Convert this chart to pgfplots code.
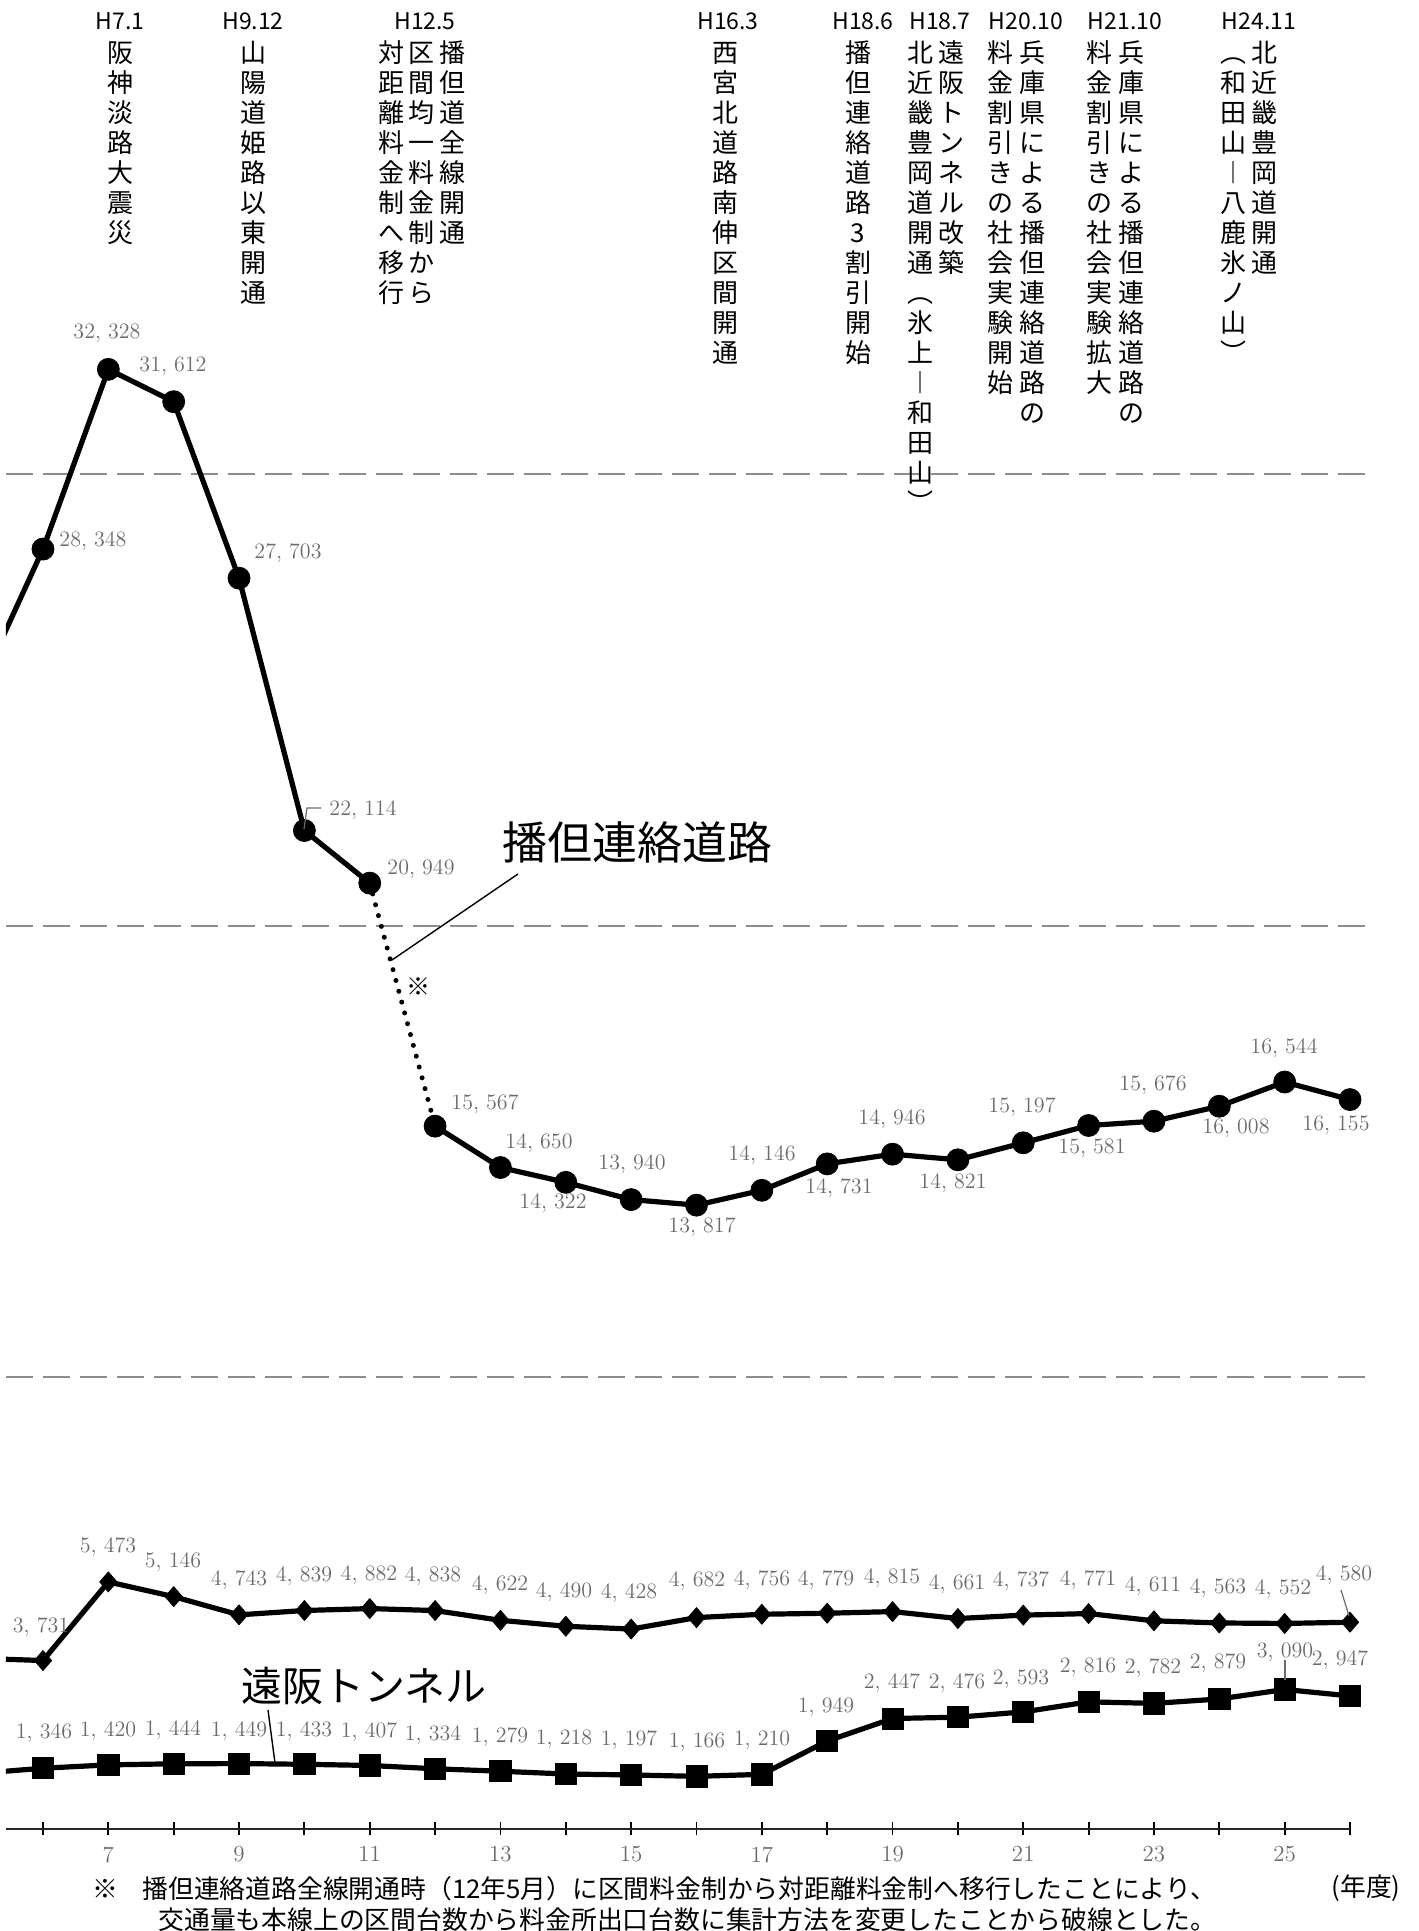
\documentclass[border=0pt]{standalone}
\usepackage{pgfplots}
\pgfplotsset{compat=1.18}
\usepackage{fontspec}
\newfontfamily\jp{Noto Sans CJK JP}
\definecolor{lab}{gray}{0.42}
\definecolor{gridc}{gray}{0.55}

% one vertical column of characters, row pitch 30px
\tikzset{vch/.style={font=\jp\fontsize{13}{15}\selectfont, inner sep=0pt,
  text height=11.4pt, text depth=1.6pt, anchor=center}}
\newcommand\vcol[2]{\foreach \ch [count=\i from 0] in {#2}{\node[vch] at (#1,{53+30*\i}) {\ch};}}
\newcommand\hlab[2]{\node[font=\jp\fontsize{11.5}{12}\selectfont, inner sep=0pt] at (#1,21) {#2};}

\begin{document}
\begin{tikzpicture}
\useasboundingbox (0,0) rectangle (709pt,965.5pt);
\begin{axis}[
  at={(3pt,51pt)}, anchor=south west,
  scale only axis, width=672pt, height=914.5pt,
  xmin=5.434, xmax=26, ymin=0, ymax=40509,
  axis x line=bottom, axis y line=none,
  x axis line style={-, line width=1.4pt, black!85},
  xtick={6,...,26},
  xticklabels={{},7,{},9,{},11,{},13,{},15,{},17,{},19,{},21,{},23,{},25,{}},
  tick align=center, major tick length=6.5pt,
  every tick/.style={black, line width=0.9pt},
  xticklabel style={text=lab, font=\fontsize{11.5}{12}\selectfont, yshift=-2pt},
  /pgf/number format/assume math mode=true,
  ytick=\empty,
  clip mode=individual,
]
% dashed reference lines
\foreach \g in {10000,20000,30000}{
  \edef\tmp{\noexpand\draw[gridc, line width=1pt, dash pattern=on 13.5pt off 5pt]
    (axis cs:5.434,\g) -- (axis cs:26.38,\g);}\tmp}

% 播但連絡道路 (dotted where counting method changed)
\addplot[black, line width=2.5pt, line cap=round, dash pattern=on 0pt off 5.6pt]
  coordinates {(11,20949) (12,15567)};
\addplot[black, line width=2.6pt, line join=round, mark=*, mark size=5.5pt,
  mark options={line width=0.4pt}]
  coordinates {(5,25180) (6,28348) (7,32328) (8,31612) (9,27703) (10,22114) (11,20949)};
\addplot[black, line width=2.6pt, line join=round, mark=*, mark size=5.5pt,
  mark options={line width=0.4pt}]
  coordinates {(12,15567) (13,14650) (14,14322) (15,13940) (16,13817) (17,14146)
    (18,14731) (19,14946) (20,14821) (21,15197) (22,15581) (23,15676) (24,16008)
    (25,16544) (26,16155)};

% diamond series
\addplot[black, line width=2.6pt, line join=round, mark=diamond*, mark size=5pt,
  mark options={xscale=1.15, line width=0.4pt}]
  coordinates {(5,3780) (6,3731) (7,5473) (8,5146) (9,4743) (10,4839) (11,4882)
    (12,4838) (13,4622) (14,4490) (15,4428) (16,4682) (17,4756) (18,4779) (19,4815)
    (20,4661) (21,4737) (22,4771) (23,4611) (24,4563) (25,4552) (26,4580)};

% 遠阪トンネル
\addplot[black, line width=2.6pt, line join=round, mark=square*, mark size=5.3pt,
  mark options={line width=0.4pt}]
  coordinates {(5,1230) (6,1346) (7,1420) (8,1444) (9,1449) (10,1433) (11,1407)
    (12,1334) (13,1279) (14,1218) (15,1197) (16,1166) (17,1210) (18,1949) (19,2447)
    (20,2476) (21,2593) (22,2816) (23,2782) (24,2879) (25,3090) (26,2947)};
\end{axis}

% annotations, in reference pixel units (origin top left)
\begin{scope}[yshift=965.5pt, x=0.5pt, y=-0.5pt]
\tikzset{num/.style={text=lab, font=\fontsize{11}{12}\selectfont, inner sep=0pt}}
\foreach \x/\y/\a/\b in {93/541/28/348, 107/333/32/328, 173/366/31/612, 288/553/27/703,
  363/810/22/114, 421/869/20/949, 485/1104/15/567, 539/1143/14/650, 553/1203/14/322,
  632/1164/13/940, 702/1227/13/817, 762/1155/14/146, 839/1188/14/731, 892/1119/14/946,
  953/1183/14/821, 1022/1107/15/197, 1092/1148/15/581, 1153/1085/15/676,
  1236/1128/16/008, 1284/1048/16/544, 1336/1125/16/155,
  41/1627/3/731, 108/1547/5/473, 173/1562/5/146, 239/1580/4/743, 304/1576/4/839,
  369/1575/4/882, 433/1576/4/838, 500/1585/4/622, 564/1592/4/490, 629/1593/4/428,
  697/1581/4/682, 762/1580/4/756, 826/1580/4/779, 892/1578/4/815, 957/1584/4/661,
  1021/1581/4/737, 1088/1580/4/771, 1153/1586/4/611, 1218/1588/4/563,
  1283/1589/4/552, 1344/1575/4/580,
  44/1733/1/346, 108/1731/1/420, 173/1730/1/444, 239/1731/1/449, 304/1731/1/433,
  369/1732/1/407, 433/1735/1/334, 500/1737/1/279, 564/1739/1/218, 629/1740/1/197,
  697/1742/1/166, 762/1740/1/210, 826/1707/1/949, 892/1683/2/447, 957/1683/2/476,
  1021/1679/2/593, 1088/1667/2/816, 1153/1668/2/782, 1218/1663/2/879,
  1285/1652/3/090, 1340/1660/2/947}
  {\node[num] at (\x,\y) {\a, \b};}
\draw[lab, line width=0.6pt] (304,829) -- (307,808) -- (321,808);
\draw[lab, line width=0.6pt] (1341,1590) -- (1349,1616);
\draw[lab, line width=0.6pt] (1285,1660) -- (1285,1680);

\node[font=\jp\fontsize{22.5}{24}\selectfont] at (637,842) {播但連絡道路};
\draw[line width=0.7pt] (518,874) -- (392,960);
\node[font=\jp\fontsize{12}{13}\selectfont] at (418,987) {※};
\node[font=\jp\fontsize{20.5}{22}\selectfont] at (364,1686) {遠阪トンネル};
\draw[line width=0.7pt] (268,1710) -- (275,1763);

\hlab{120}{H7.1}
\vcol{120}{阪,神,淡,路,大,震,災}
\hlab{253}{H9.12}
\vcol{253}{山,陽,道,姫,路,以,東,開,通}
\hlab{425}{H12.5}
\vcol{452}{播,但,道,全,線,開,通}
\vcol{421}{区,間,均,一,料,金,制,か,ら}
\vcol{391}{対,距,離,料,金,制,へ,移,行}
\hlab{728}{H16.3}
\vcol{725}{西,宮,北,道,路,南,伸,区,間,開,通}
\hlab{863}{H18.6}
\vcol{858}{播,但,連,絡,道,路,3,割,引,開,始}
\hlab{940}{H18.7}
\vcol{951}{遠,阪,ト,ン,ネ,ル,改,築}
\vcol{920}{北,近,畿,豊,岡,道,開,通,︵,氷,上,︱,和,田,山,︶}
\hlab{1026}{H20.10}
\vcol{1032}{兵,庫,県,に,よ,る,播,但,連,絡,道,路,の}
\vcol{1000}{料,金,割,引,き,の,社,会,実,験,開,始}
\hlab{1125}{H21.10}
\vcol{1131}{兵,庫,県,に,よ,る,播,但,連,絡,道,路,の}
\vcol{1099}{料,金,割,引,き,の,社,会,実,験,拡,大}
\hlab{1259}{H24.11}
\vcol{1264}{北,近,畿,豊,岡,道,開,通}
\vcol{1233}{︵,和,田,山,︱,八,鹿,氷,ノ,山,︶}

\tikzset{note/.style={font=\jp\fontsize{12.9}{14}\selectfont, inner sep=0pt}}
\node[note] at (105,1889) {※};
\node[note, anchor=west] at (142,1889) {播但連絡道路全線開通時（12年5月）に区間料金制から対距離料金制へ移行したことにより、};
\node[note, anchor=west] at (158,1920) {交通量も本線上の区間台数から料金所出口台数に集計方法を変更したことから破線とした。};
\node[note] at (1366,1888) {(年度)};
\end{scope}
\end{tikzpicture}
\end{document}
